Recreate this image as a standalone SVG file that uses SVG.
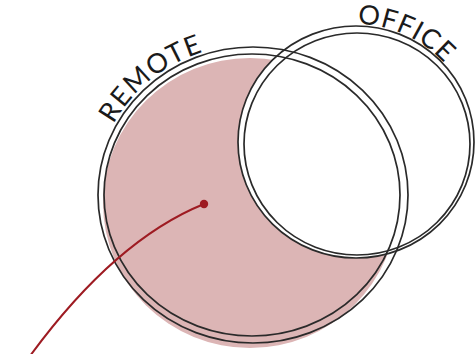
<svg xmlns="http://www.w3.org/2000/svg" width="475" height="354" viewBox="0 0 475 354">
<style>
.ring{fill:none;stroke:#2a2a2a;stroke-width:1.7}
.lbl{font-family:Lato,"Open Sans",sans-serif;fill:#1a1a1a}
.conn{fill:none;stroke:#9e1b22;stroke-width:2}
</style>
<defs>
<mask id="cut" maskUnits="userSpaceOnUse" x="0" y="0" width="475" height="354">
<rect x="0" y="0" width="475" height="354" fill="#fff"/>
<ellipse cx="356" cy="142" rx="118" ry="116" fill="#000"/>
</mask>
<path id="remoteArc" d="M 95 195 A 158 151 0 0 1 411 195"/>
<path id="officeArc" d="M 237 143 A 119 119 0 0 1 459 83.5"/>
</defs>
<rect width="475" height="354" fill="#fff"/>
<g id="remote">
<ellipse cx="250" cy="203" rx="147" ry="145" fill="#dcb5b5" mask="url(#cut)"/>
<ellipse class="ring" cx="253" cy="195" rx="155" ry="148"/>
<ellipse class="ring" cx="252" cy="195" rx="148" ry="141"/>
<text class="lbl" font-size="27" letter-spacing="1.5"><textPath href="#remoteArc" startOffset="74">REMOTE</textPath></text>
</g>
<g id="office">
<ellipse class="ring" cx="356" cy="142" rx="118" ry="116"/>
<ellipse class="ring" cx="357" cy="144" rx="113" ry="111"/>
<text class="lbl" font-size="27" letter-spacing="0.8"><textPath href="#officeArc" startOffset="188">OFFICE</textPath></text>
</g>
<g id="connectors">
<path class="conn" d="M 204 204 Q 115 240 30 356"/>
<circle cx="204" cy="204" r="4.2" fill="#9e1b22"/>
</g>
</svg>
